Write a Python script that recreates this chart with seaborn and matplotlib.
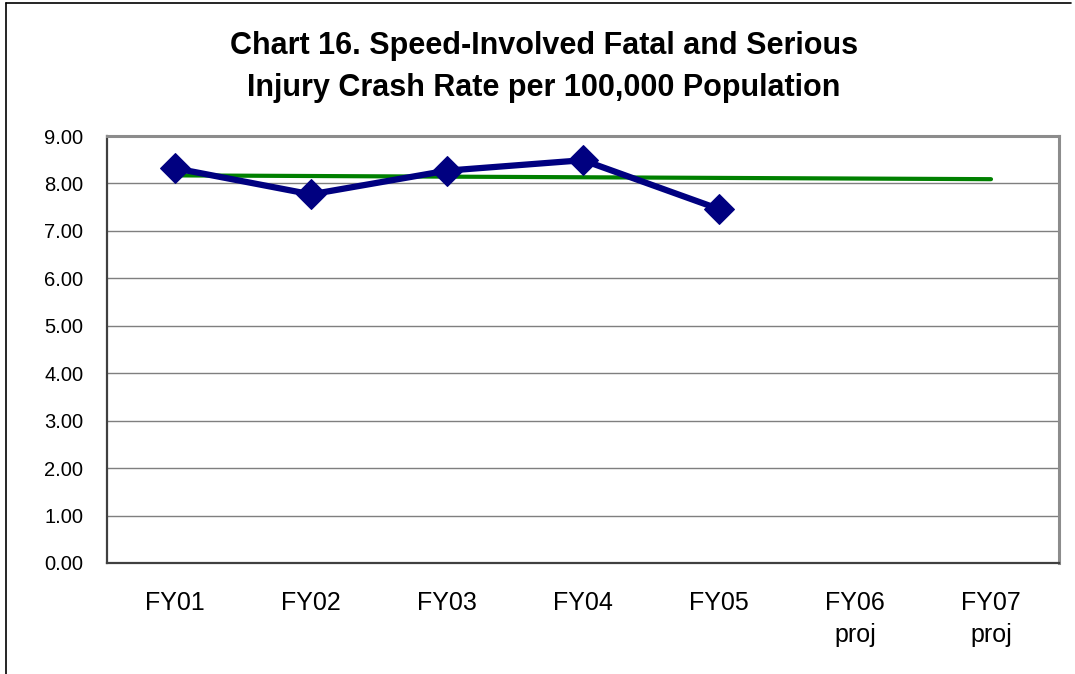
import numpy as np
import pandas as pd
import matplotlib.pyplot as plt
from matplotlib.lines import Line2D
from matplotlib.ticker import FixedLocator, FormatStrFormatter
import seaborn as sns

# ── data ────────────────────────────────────────────────────
categories = ['FY01', 'FY02', 'FY03', 'FY04', 'FY05', 'FY06\nproj', 'FY07\nproj']
rate_cats = ['FY01', 'FY02', 'FY03', 'FY04', 'FY05']
rate = [8.32, 7.77, 8.27, 8.49, 7.46]
trend_cats = ['FY01', 'FY07\nproj']
trend = [8.17, 8.09]
y_ticks = [0, 1, 2, 3, 4, 5, 6, 7, 8, 9]

title = "Chart 16. Speed-Involved Fatal and Serious\nInjury Crash Rate per 100,000 Population"

# ── style ───────────────────────────────────────────────────
sns.set_style('white')
plt.rcParams['font.family'] = ['Liberation Sans', 'DejaVu Sans']
plt.rcParams['text.color'] = 'black'
plt.rcParams['xtick.labelcolor'] = 'black'
plt.rcParams['ytick.labelcolor'] = 'black'

W, H = 1075, 674
fig = plt.figure(figsize=(W / 100, H / 100), dpi=100)
ax = fig.add_axes([107 / W, 1 - 563 / H, (1059 - 107) / W, (563 - 136) / H])

df_rate = pd.DataFrame({'pos': [categories.index(c) for c in rate_cats], 'rate': rate})
df_trend = pd.DataFrame({'pos': [categories.index(c) for c in trend_cats], 'trend': trend})

sns.lineplot(data=df_trend, x='pos', y='trend', ax=ax, color='#008000',
             linewidth=3, solid_capstyle='round', zorder=2)
sns.lineplot(data=df_rate, x='pos', y='rate', ax=ax, color='#000080',
             linewidth=4.5, marker='D', markersize=15,
             markeredgecolor='#000080', zorder=3)

# ── axes ────────────────────────────────────────────────────
ax.set_xlim(-0.5, len(categories) - 0.5)
ax.set_ylim(0, 9)
ax.set_xlabel(''); ax.set_ylabel('')

ax.set_yticks(y_ticks)
ax.yaxis.set_major_formatter(FormatStrFormatter('%.2f'))
ax.tick_params(axis='y', which='major', direction='out', length=7, width=1,
               color='#404040', labelsize=14.5, pad=10)

ax.set_xticks(range(len(categories)))
ax.set_xticklabels(categories, fontsize=18, linespacing=1.45)
ax.xaxis.set_minor_locator(FixedLocator(np.arange(-0.5, len(categories), 1)))
ax.tick_params(axis='x', which='major', length=0, pad=20)
ax.tick_params(axis='x', which='minor', direction='out', length=7, width=1,
               color='#404040')

ax.grid(axis='y', color='#7f7f7f', linewidth=1)
ax.grid(axis='x', visible=False)
ax.set_axisbelow(True)

for side in ['left', 'bottom']:
    ax.spines[side].set_color('#404040')
    ax.spines[side].set_linewidth(1.6)
for side in ['top', 'right']:
    ax.spines[side].set_color('#8c8c8c')
    ax.spines[side].set_linewidth(2.2)

# ── title & frame ───────────────────────────────────────────
fig.text(544 / W, 1 - 67 / H, title, ha='center', va='center', color='black',
         fontsize=22, fontweight='bold', linespacing=1.55)

fig.add_artist(Line2D([6 / W, 6 / W], [0, 1 - 3 / H], transform=fig.transFigure,
                      color='black', linewidth=1.2))
fig.add_artist(Line2D([6 / W, 1071 / W], [1 - 3 / H, 1 - 3 / H],
                      transform=fig.transFigure, color='black', linewidth=1.2))

fig.savefig('out.png', dpi=100)
plt.close()
